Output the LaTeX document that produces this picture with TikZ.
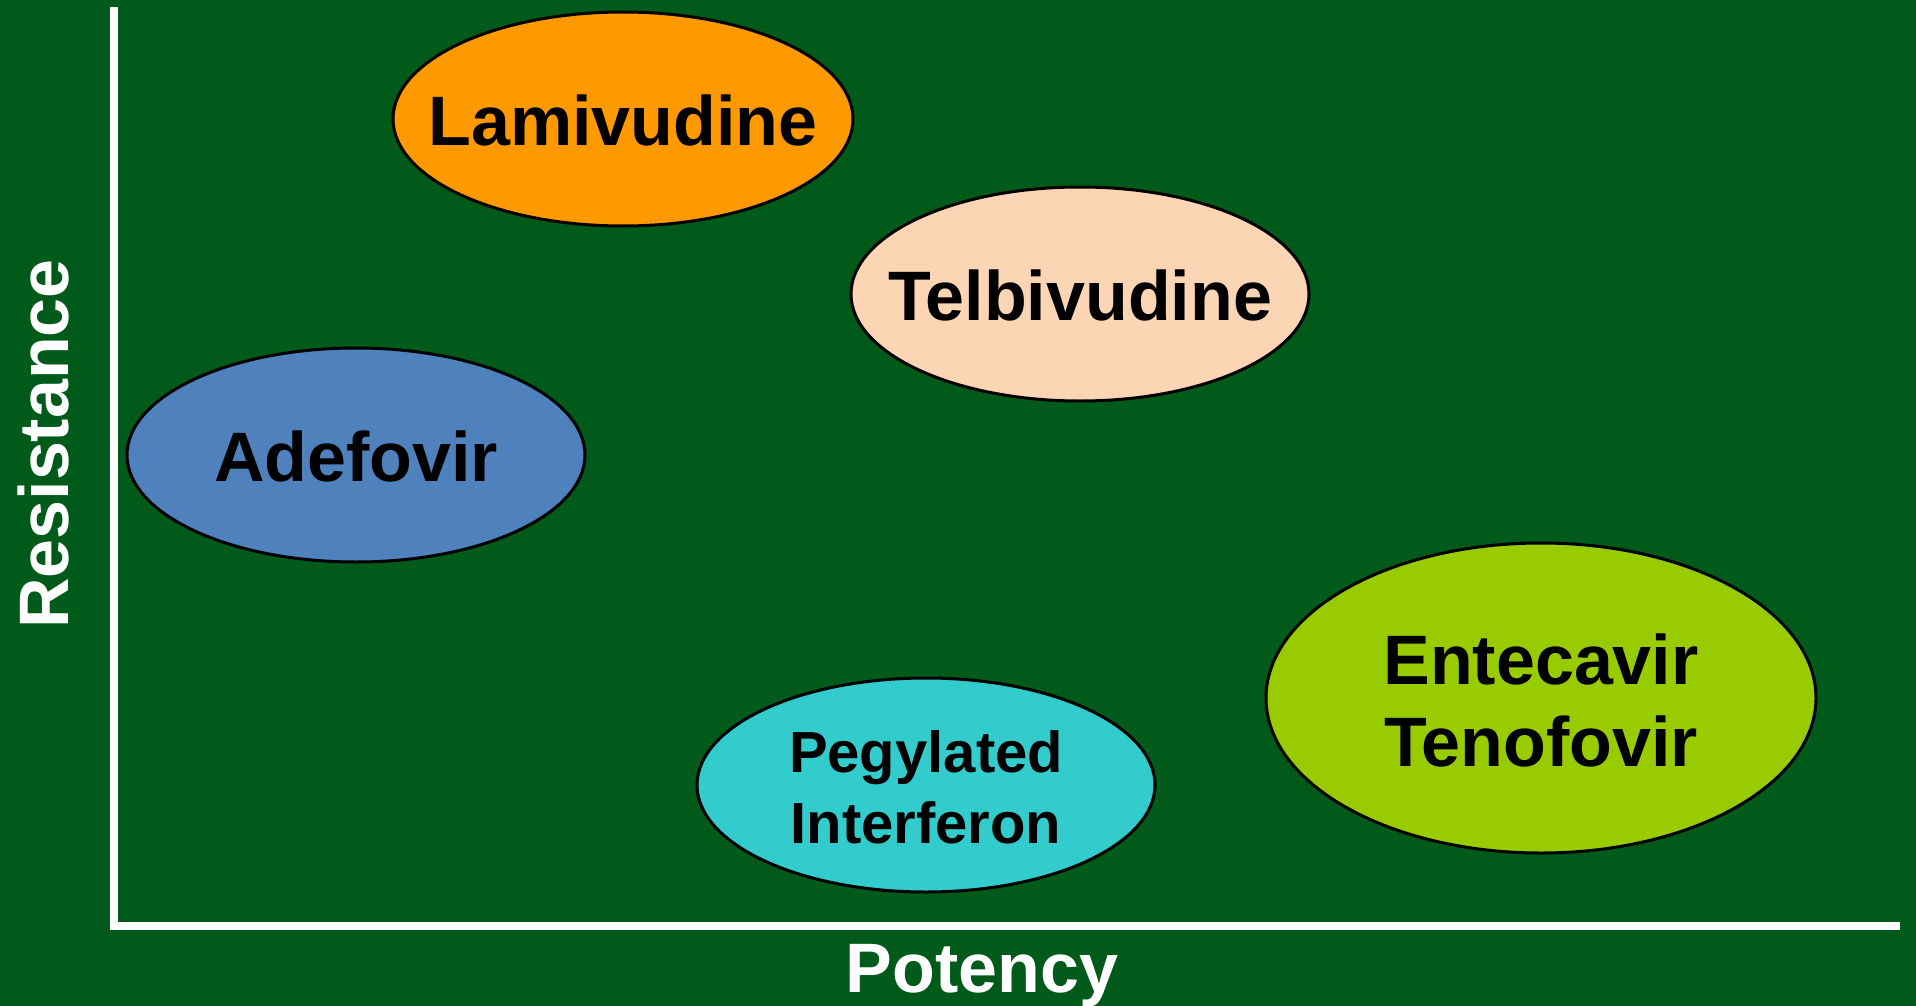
\documentclass[tikz,border=0pt]{standalone}
\usepackage{fontspec}
\setmainfont{Liberation Sans}
\usetikzlibrary{shapes.geometric}
\definecolor{bggreen}{RGB}{0,90,26}
\definecolor{lamicol}{RGB}{255,153,0}
\definecolor{telbicol}{RGB}{252,213,181}
\definecolor{adefcol}{RGB}{79,129,189}
\definecolor{pegcol}{RGB}{51,204,204}
\definecolor{entecol}{RGB}{153,204,0}
\begin{document}
\begin{tikzpicture}[x=0.5pt,y=-0.5pt,
  drug/.style={ellipse, draw=black, line width=1.5pt, inner sep=0pt},
  bigtxt/.style={anchor=base, inner sep=0pt, font=\fontsize{35}{41}\selectfont\bfseries},
  smalltxt/.style={anchor=base, inner sep=0pt, font=\fontsize{29}{35}\selectfont\bfseries},
  axis/.style={draw=white, line width=4pt, line join=miter}]
\fill[bggreen] (0,0) rectangle (1916,1006);
\useasboundingbox (0,0) rectangle (1916,1006);
% axes
\coordinate (ytop) at (114,7);
\coordinate (orig) at (114,926);
\coordinate (xend) at (1900,926);
\draw[axis] (ytop) -- (orig) -- (xend);
\node[anchor=base, inner sep=0pt, text=white, rotate=90, font=\fontsize{35}{41}\selectfont\bfseries] (ylab) at (68,444) {Resistance};
\node[anchor=base, inner sep=0pt, text=white, font=\fontsize{35}{41}\selectfont\bfseries] (xlab) at (982,992) {Potency};
% ellipses
\node[drug, fill=lamicol, minimum width=230pt, minimum height=107pt] (lami) at (623,119) {};
\node[bigtxt] (lamit) at (623,146) {Lamivudine};
\node[drug, fill=telbicol, minimum width=229pt, minimum height=107pt] (telb) at (1080,294) {};
\node[bigtxt] (telbt) at (1080,320) {Telbivudine};
\node[drug, fill=adefcol, minimum width=229pt, minimum height=107pt] (adef) at (356,455) {};
\node[bigtxt] (adeft) at (356,481) {Adefovir};
\node[drug, fill=pegcol, minimum width=229pt, minimum height=107pt] (peg) at (926,785) {};
\node[smalltxt] (pegt1) at (926,772) {Pegylated};
\node[smalltxt] (pegt2) at (926,843) {Interferon};
\node[drug, fill=entecol, minimum width=275pt, minimum height=155pt] (ente) at (1541,698) {};
\node[bigtxt] (entet1) at (1541,684) {Entecavir};
\node[bigtxt] (entet2) at (1541,766) {Tenofovir};
\end{tikzpicture}
\end{document}
